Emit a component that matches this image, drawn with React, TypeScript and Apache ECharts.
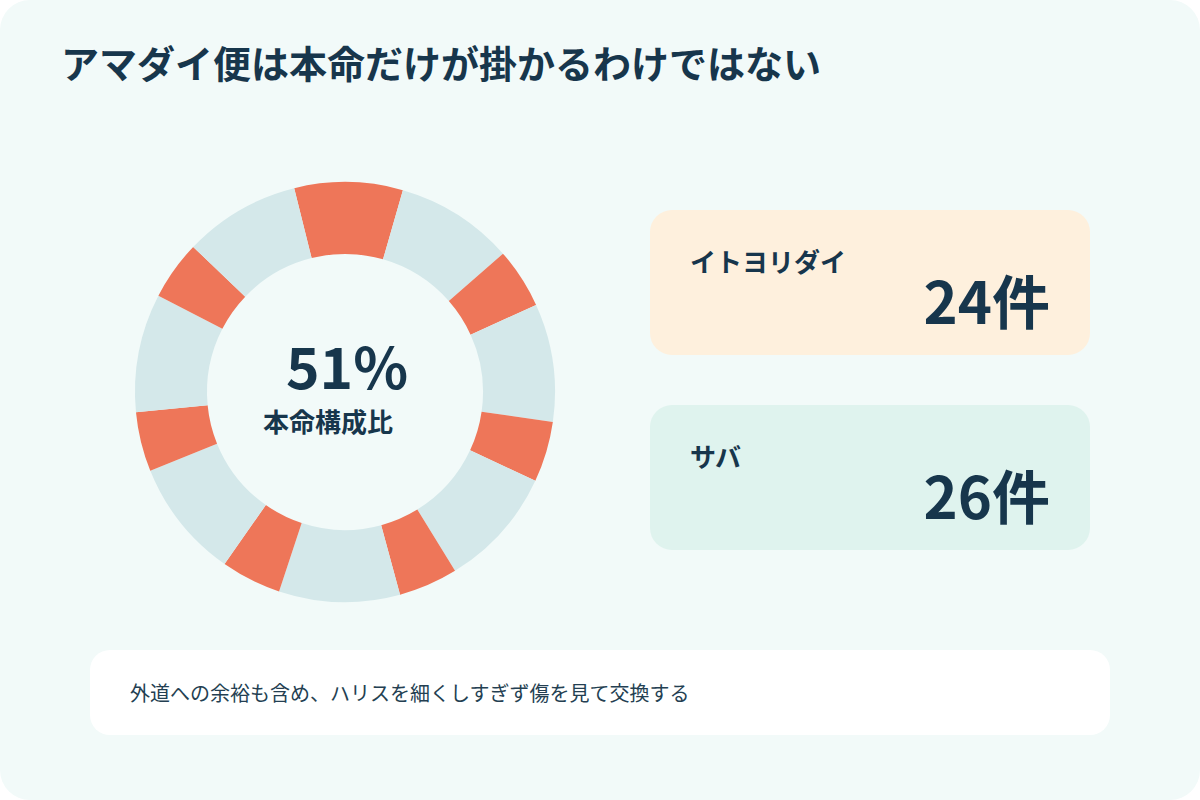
import * as echarts from "echarts";
import { useEffect, useRef } from "react";

// ring segments in degrees, clockwise from the top orange block
const ringNames = [
  "本命", "その他", "本命", "その他", "本命", "その他", "本命",
  "その他", "本命", "その他", "本命", "その他", "本命", "その他",
];
const ringValues = [30, 32.8, 16.7, 32.7, 16.8, 33.4, 16.4, 33.5, 16.7, 33, 16.5, 32.8, 16.4, 32.3];

const title = "アマダイ便は本命だけが掛かるわけではない";
const centerValue = "51%";
const centerLabel = "本命構成比";
const cardNames = ["イトヨリダイ", "サバ"];
const cardCounts = ["24件", "26件"];
const cardColors = ["#FEF0DD", "#DFF3EE"];
const note = "外道への余裕も含め、ハリスを細くしすぎず傷を見て交換する";

const FONT = '"Noto Sans CJK JP", "Noto Sans", sans-serif';
const INK = "#17364C";

function App() {
  const chartRef = useRef<HTMLDivElement>(null);

  useEffect(() => {
    document.body.style.margin = "0";
    const chart = echarts.init(chartRef.current, null, { renderer: "svg" });

    const cards: any[] = [];
    cardNames.forEach((name, i) => {
      const top = 210 + i * 195;
      cards.push({
        type: "rect",
        shape: { x: 650, y: top, width: 440, height: 145, r: 22 },
        style: { fill: cardColors[i] },
        z: 1,
      });
      cards.push({
        type: "text",
        x: 690,
        y: top + 50,
        style: {
          text: name,
          font: `bold 26px ${FONT}`,
          fill: INK,
          textVerticalAlign: "middle",
        },
        z: 2,
      });
      cards.push({
        type: "text",
        x: 1050,
        y: top + 89,
        style: {
          text: cardCounts[i],
          font: `bold 58px ${FONT}`,
          fill: INK,
          textAlign: "right",
          textVerticalAlign: "middle",
        },
        z: 2,
      });
    });

    const option = {
      animation: false,
      color: ["#EE7659", "#D4E8EA"],
      graphic: [
        {
          type: "rect",
          shape: { x: 0, y: 0, width: 1200, height: 800, r: 30 },
          style: { fill: "#F2FAF9" },
          z: -10,
        },
        {
          type: "text",
          x: 61,
          y: 61,
          style: {
            text: title,
            font: `bold 38px ${FONT}`,
            fill: INK,
            textVerticalAlign: "middle",
          },
        },
        {
          type: "text",
          x: 347,
          y: 364,
          style: {
            text: centerValue,
            font: `bold 57px ${FONT}`,
            fill: INK,
            textAlign: "center",
            textVerticalAlign: "middle",
          },
          z: 5,
        },
        {
          type: "text",
          x: 328,
          y: 420,
          style: {
            text: centerLabel,
            font: `bold 26px ${FONT}`,
            fill: INK,
            textAlign: "center",
            textVerticalAlign: "middle",
          },
          z: 5,
        },
        ...cards,
        {
          type: "rect",
          shape: { x: 90, y: 650, width: 1020, height: 85, r: 20 },
          style: { fill: "#FFFFFF" },
          z: 1,
        },
        {
          type: "text",
          x: 130,
          y: 692,
          style: {
            text: note,
            font: `20px ${FONT}`,
            fill: "#243F52",
            textVerticalAlign: "middle",
          },
          z: 2,
        },
      ],
      series: [
        {
          type: "pie",
          center: [345, 392],
          radius: [138, 210],
          startAngle: 104,
          clockwise: true,
          silent: true,
          label: { show: false },
          labelLine: { show: false },
          itemStyle: { borderWidth: 0 },
          data: ringValues.map((v, i) => ({
            name: ringNames[i] + i,
            value: v,
            itemStyle: { color: i % 2 === 0 ? "#EE7659" : "#D4E8EA" },
          })),
        },
      ],
    };

    chart.setOption(option);
    return () => {
      chart.dispose();
    };
  }, []);

  return (
    <div
      ref={chartRef}
      style={{ position: "absolute", left: 0, top: 0, width: 1200, height: 800, background: "#FFFFFF" }}
    ></div>
  );
}

export default App;
